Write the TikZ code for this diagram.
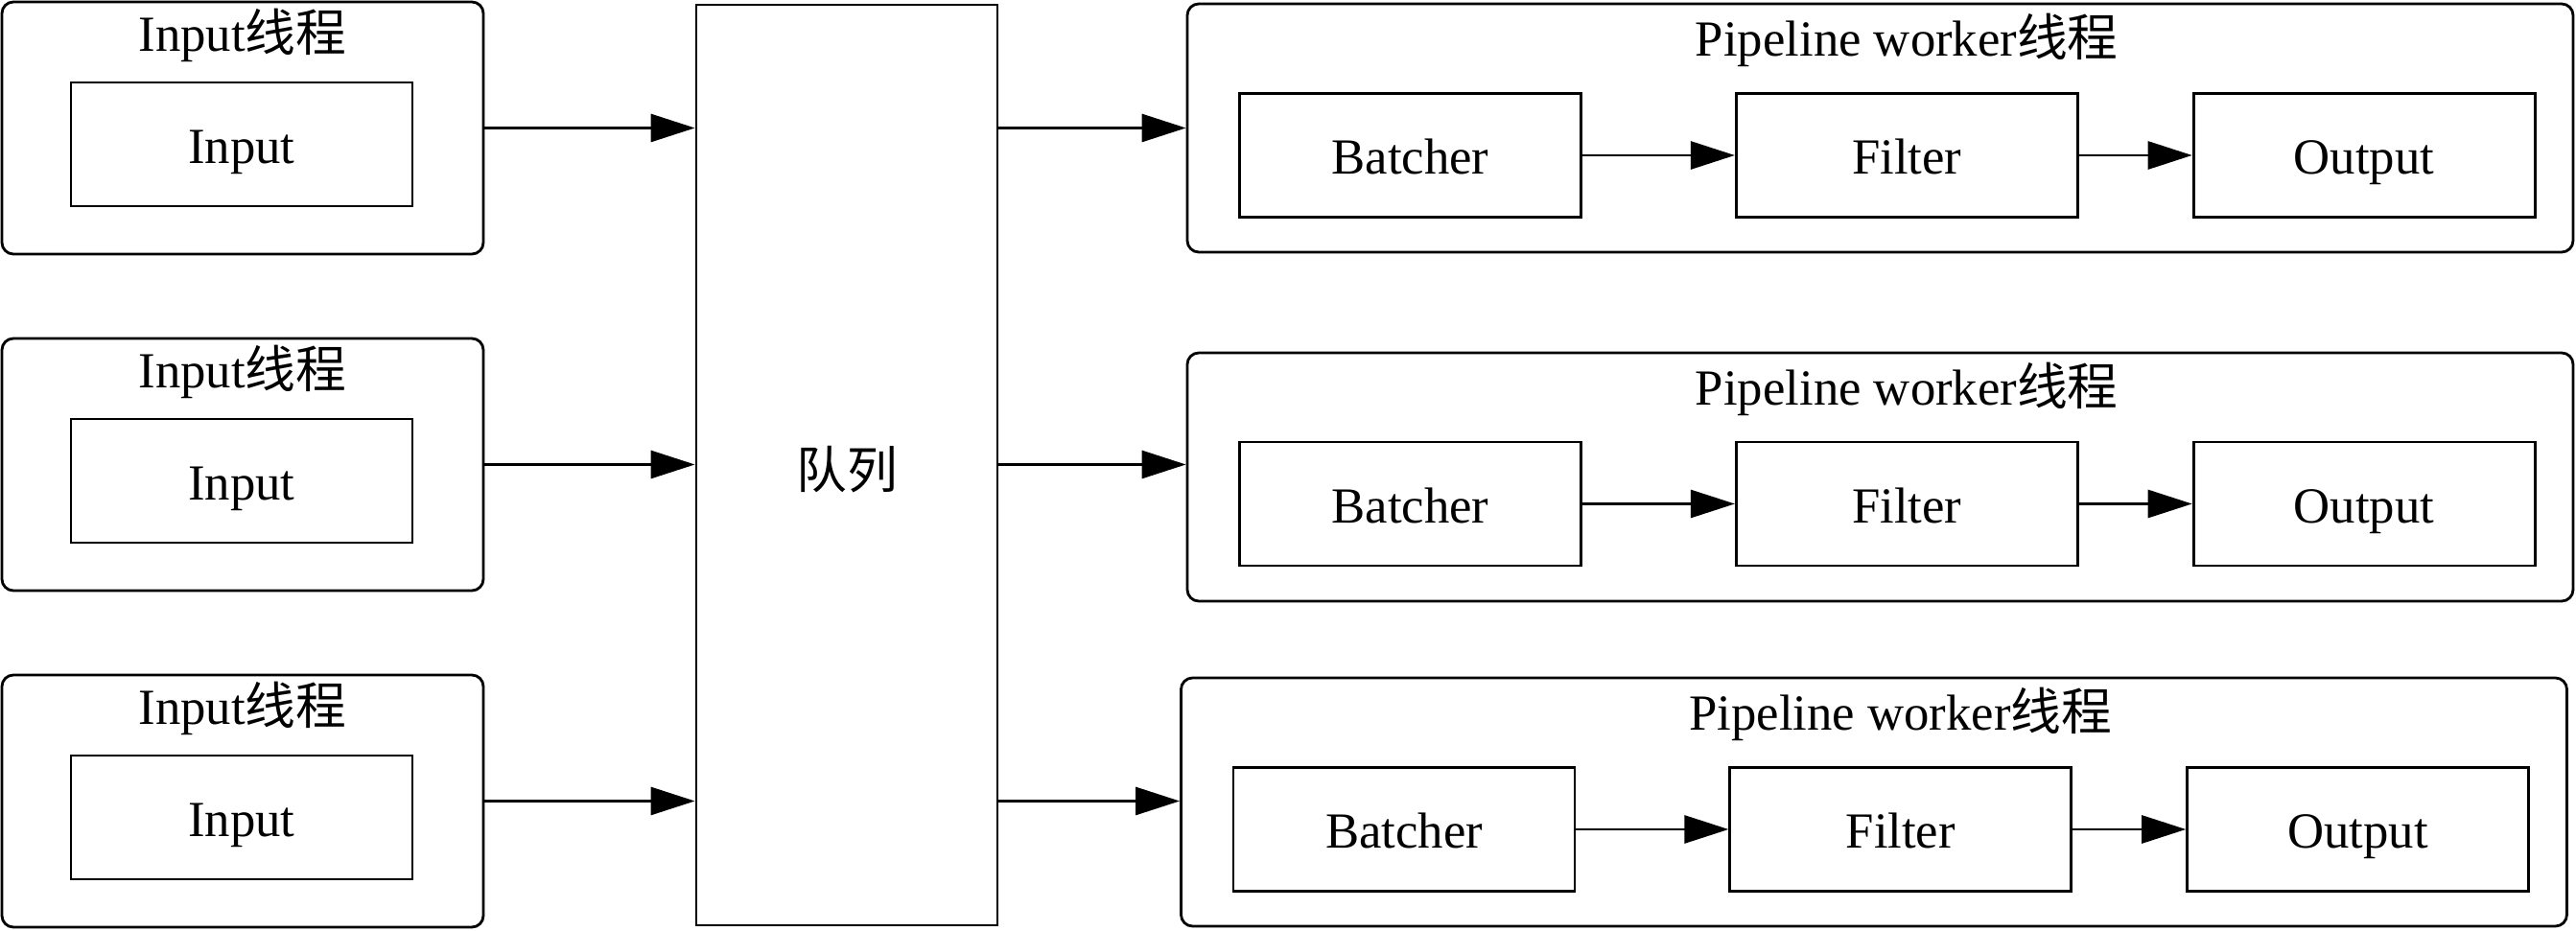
\documentclass[tikz,border=0pt]{standalone}
\usepackage{fontspec}
\setmainfont{Liberation Serif}
\newfontfamily\cjk{Noto Sans CJK SC}
\usepackage{tikz}
\usetikzlibrary{positioning,arrows.meta}

\begin{document}
\begin{tikzpicture}[
    font=\fontsize{15pt}{18pt}\selectfont,
    line width=0.8pt,
    thread/.style={draw, rounded corners=0.12cm},
    stage/.style={draw, minimum width=3.56cm, minimum height=1.29cm, inner sep=0pt, text height=11.2pt, text depth=0pt},
    title/.style={anchor=base, inner sep=0pt},
    flow/.style={-{Triangle[length=0.46cm, width=0.29cm]}},
]

\useasboundingbox (0,0) rectangle (26.86,-9.71);

% Input threads with the Input stage inside
\node[thread, minimum width=5.02cm, minimum height=2.63cm] (in1) at (2.53,-1.335) {};
\node[stage] (input1) at (2.52,-1.505) {Input};
\node[title] (in1t) at ([yshift=-0.53cm]in1.north) {Input{\cjk 线程}};

\node[thread, minimum width=5.02cm, minimum height=2.63cm] (in2) at (2.53,-4.845) {};
\node[stage] (input2) at (2.52,-5.015) {Input};
\node[title] (in2t) at ([yshift=-0.53cm]in2.north) {Input{\cjk 线程}};

\node[thread, minimum width=5.02cm, minimum height=2.63cm] (in3) at (2.53,-8.355) {};
\node[stage] (input3) at (2.52,-8.525) {Input};
\node[title] (in3t) at ([yshift=-0.53cm]in3.north) {Input{\cjk 线程}};

% Queue in the middle
\node[draw, minimum width=3.14cm, minimum height=9.60cm, text height=15pt, text depth=0.8pt] (queue) at (8.83,-4.85) {\cjk 队列};

% Pipeline worker threads
\node[thread, minimum width=14.45cm, minimum height=2.59cm] (pw1) at (19.605,-1.335) {};
\node[stage] (batcher1) at (14.705,-1.62) {Batcher};
\node[stage, right=1.59cm of batcher1] (filter1) {Filter};
\node[stage, right=1.18cm of filter1] (output1) {Output};
\node[title] (pw1t) at ([yshift=-0.56cm]pw1.north -| filter1.north) {Pipeline worker{\cjk 线程}};

\node[thread, minimum width=14.45cm, minimum height=2.59cm] (pw2) at (19.605,-4.975) {};
\node[stage] (batcher2) at (14.705,-5.255) {Batcher};
\node[stage, right=1.59cm of batcher2] (filter2) {Filter};
\node[stage, right=1.18cm of filter2] (output2) {Output};
\node[title] (pw2t) at ([yshift=-0.56cm]pw2.north -| filter2.north) {Pipeline worker{\cjk 线程}};

\node[thread, minimum width=14.45cm, minimum height=2.59cm] (pw3) at (19.54,-8.365) {};
\node[stage] (batcher3) at (14.64,-8.65) {Batcher};
\node[stage, right=1.59cm of batcher3] (filter3) {Filter};
\node[stage, right=1.18cm of filter3] (output3) {Output};
\node[title] (pw3t) at ([yshift=-0.56cm]pw3.north -| filter3.north) {Pipeline worker{\cjk 线程}};

% Inputs into the queue
\draw[flow] (in1.east) -- (in1.east -| queue.west);
\draw[flow] (in2.east) -- (in2.east -| queue.west);
\draw[flow] (in3.east) -- (in3.east -| queue.west);

% Queue out to the workers
\draw[flow] (queue.east |- in1.east) -- (pw1.west |- in1.east);
\draw[flow] (queue.east |- in2.east) -- (pw2.west |- in2.east);
\draw[flow] (queue.east |- in3.east) -- (pw3.west |- in3.east);

% Stages inside each worker
\draw[flow] (batcher1) -- (filter1);
\draw[flow] (filter1) -- (output1);
\draw[flow] (batcher2) -- (filter2);
\draw[flow] (filter2) -- (output2);
\draw[flow] (batcher3) -- (filter3);
\draw[flow] (filter3) -- (output3);

\end{tikzpicture}
\end{document}
